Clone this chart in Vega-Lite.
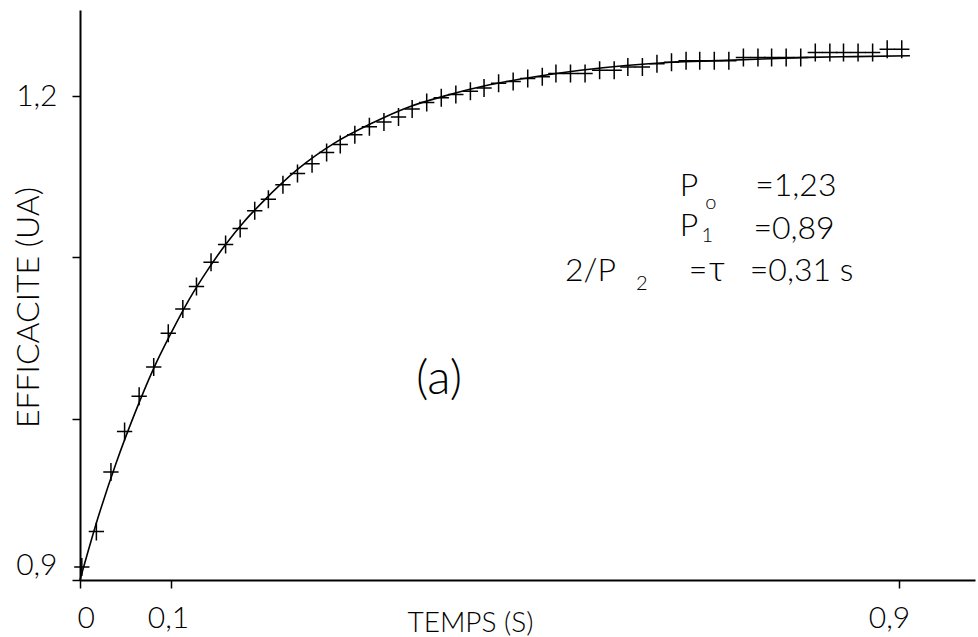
{
  "$schema": "https://vega.github.io/schema/vega-lite/v6.json",
  "width": 895,
  "height": 570,
  "autosize": "none",
  "padding": {"left": 80, "top": 10, "right": 3, "bottom": 57},
  "background": "white",
  "config": {
    "view": {"stroke": null},
    "font": "Lato",
    "text": {"font": "Lato", "fontWeight": 300, "color": "black"},
    "axis": {
      "domainColor": "black", "domainWidth": 2, "tickColor": "black", "tickWidth": 1.5,
      "grid": false, "labelColor": "black", "titleColor": "black",
      "labelFont": "Lato", "titleFont": "Lato",
      "labelFontWeight": 300, "titleFontWeight": 300
    }
  },
  "datasets": {
    "fit": [
      {"t": 0, "v": 0.900}, {"t": 0.02, "v": 0.939}, {"t": 0.04, "v": 0.973}, {"t": 0.06, "v": 1.003},
      {"t": 0.08, "v": 1.030}, {"t": 0.10, "v": 1.053}, {"t": 0.12, "v": 1.074}, {"t": 0.14, "v": 1.092},
      {"t": 0.16, "v": 1.108}, {"t": 0.18, "v": 1.122}, {"t": 0.20, "v": 1.134}, {"t": 0.24, "v": 1.155},
      {"t": 0.28, "v": 1.171}, {"t": 0.32, "v": 1.183}, {"t": 0.36, "v": 1.193}, {"t": 0.40, "v": 1.200},
      {"t": 0.45, "v": 1.207}, {"t": 0.50, "v": 1.212}, {"t": 0.55, "v": 1.216}, {"t": 0.60, "v": 1.219},
      {"t": 0.65, "v": 1.221}, {"t": 0.70, "v": 1.222}, {"t": 0.75, "v": 1.223}, {"t": 0.80, "v": 1.224},
      {"t": 0.85, "v": 1.2245}, {"t": 0.912, "v": 1.225}
    ],
    "pts": [
      {"t": 0.002, "v": 0.908}, {"t": 0.018, "v": 0.930}, {"t": 0.034, "v": 0.967}, {"t": 0.049, "v": 0.992},
      {"t": 0.065, "v": 1.014}, {"t": 0.081, "v": 1.032}, {"t": 0.097, "v": 1.053}, {"t": 0.113, "v": 1.068},
      {"t": 0.128, "v": 1.082}, {"t": 0.144, "v": 1.097}, {"t": 0.160, "v": 1.108}, {"t": 0.176, "v": 1.118},
      {"t": 0.192, "v": 1.129}, {"t": 0.207, "v": 1.136}, {"t": 0.223, "v": 1.145}, {"t": 0.239, "v": 1.152},
      {"t": 0.255, "v": 1.158}, {"t": 0.271, "v": 1.165}, {"t": 0.286, "v": 1.170}, {"t": 0.302, "v": 1.176},
      {"t": 0.318, "v": 1.181}, {"t": 0.334, "v": 1.184}, {"t": 0.350, "v": 1.187}, {"t": 0.365, "v": 1.192},
      {"t": 0.381, "v": 1.196}, {"t": 0.397, "v": 1.199}, {"t": 0.413, "v": 1.201}, {"t": 0.429, "v": 1.203},
      {"t": 0.444, "v": 1.205}, {"t": 0.460, "v": 1.208}, {"t": 0.476, "v": 1.209}, {"t": 0.492, "v": 1.211},
      {"t": 0.508, "v": 1.212}, {"t": 0.523, "v": 1.214}, {"t": 0.539, "v": 1.214}, {"t": 0.555, "v": 1.214},
      {"t": 0.571, "v": 1.216}, {"t": 0.587, "v": 1.216}, {"t": 0.602, "v": 1.218}, {"t": 0.618, "v": 1.218},
      {"t": 0.634, "v": 1.220}, {"t": 0.650, "v": 1.221}, {"t": 0.666, "v": 1.222}, {"t": 0.681, "v": 1.222},
      {"t": 0.697, "v": 1.222}, {"t": 0.713, "v": 1.222}, {"t": 0.729, "v": 1.224}, {"t": 0.745, "v": 1.224},
      {"t": 0.760, "v": 1.224}, {"t": 0.776, "v": 1.224}, {"t": 0.792, "v": 1.224}, {"t": 0.808, "v": 1.227},
      {"t": 0.824, "v": 1.227}, {"t": 0.839, "v": 1.227}, {"t": 0.855, "v": 1.227}, {"t": 0.871, "v": 1.227},
      {"t": 0.887, "v": 1.229}, {"t": 0.903, "v": 1.229}
    ],
    "ann": [
      {"t": 0.659, "v": 1.1379, "label": "P"},
      {"t": 0.742, "v": 1.1379, "label": "=1,23"},
      {"t": 0.659, "v": 1.1130, "label": "P"},
      {"t": 0.740, "v": 1.1112, "label": "=0,89"},
      {"t": 0.669, "v": 1.0851, "label": "="},
      {"t": 0.736, "v": 1.0851, "label": "=0,31"},
      {"t": 0.835, "v": 1.0851, "label": "s"}
    ],
    "annR": [
      {"t": 0.589, "v": 1.0851, "label": "2/P"}
    ],
    "tau": [
      {"t": 0.691, "v": 1.0851, "label": "τ"}
    ],
    "subs": [
      {"t": 0.687, "v": 1.1298, "label": "o"},
      {"t": 0.683, "v": 1.1093, "label": "1"},
      {"t": 0.611, "v": 1.0795, "label": "2"}
    ],
    "tag": [
      {"t": 0.3945, "v": 1.0242, "label": "(a)"}
    ]
  },
  "layer": [
    {
      "data": {"name": "fit"},
      "mark": {"type": "line", "color": "black", "strokeWidth": 1.6, "interpolate": "monotone"},
      "encoding": {
        "x": {
          "field": "t", "type": "quantitative",
          "scale": {"domain": [0, 0.9835], "nice": false, "zero": false},
          "axis": {
            "values": [0, 0.1, 0.9],
            "labelExpr": "datum.value == 0 ? '0' : datum.value == 0.1 ? '0,1' : '0,9'",
            "labelOffset": {"condition": {"test": "datum.value == 0.9", "value": -10}, "value": -3},
            "tickSize": 8, "labelPadding": 15, "labelFontSize": 30,
            "title": "TEMPS (S)", "titleFontSize": 28,
            "titleX": 390, "titleY": 43, "titleAlign": "center", "titleBaseline": "middle", "titleAnchor": null
          }
        },
        "y": {
          "field": "v", "type": "quantitative",
          "scale": {"domain": [0.9, 1.2534], "nice": false, "zero": false},
          "axis": {
            "values": [0.9, 1.0, 1.1, 1.2],
            "labelExpr": "datum.value == 1.2 ? '1,2' : datum.value == 0.9 ? '0,9' : ''",
            "labelBaseline": {"condition": {"test": "datum.value == 0.9", "value": "bottom"}, "value": "middle"},
            "tickSize": 8, "labelPadding": 15, "labelFontSize": 30,
            "title": "EFFICACITE (UA)", "titleFontSize": 32,
            "titleX": -52, "titleY": 297, "titleAngle": 270, "titleAlign": "center", "titleBaseline": "middle", "titleAnchor": null
          }
        }
      }
    },
    {
      "data": {"name": "pts"},
      "mark": {"type": "point", "shape": "M-0.85,0H0.85M0,-1V1", "filled": false, "stroke": "black", "strokeWidth": 1.5, "size": 324, "opacity": 1},
      "encoding": {
        "x": {"field": "t", "type": "quantitative"},
        "y": {"field": "v", "type": "quantitative"}
      }
    },
    {
      "data": {"name": "ann"},
      "mark": {"type": "text", "align": "left", "baseline": "alphabetic", "fontSize": 32},
      "encoding": {
        "x": {"field": "t", "type": "quantitative"},
        "y": {"field": "v", "type": "quantitative"},
        "text": {"field": "label"}
      }
    },
    {
      "data": {"name": "annR"},
      "mark": {"type": "text", "align": "right", "baseline": "alphabetic", "fontSize": 32},
      "encoding": {
        "x": {"field": "t", "type": "quantitative"},
        "y": {"field": "v", "type": "quantitative"},
        "text": {"field": "label"}
      }
    },
    {
      "data": {"name": "tau"},
      "mark": {"type": "text", "align": "left", "baseline": "alphabetic", "fontSize": 36},
      "encoding": {
        "x": {"field": "t", "type": "quantitative"},
        "y": {"field": "v", "type": "quantitative"},
        "text": {"field": "label"}
      }
    },
    {
      "data": {"name": "subs"},
      "mark": {"type": "text", "align": "left", "baseline": "alphabetic", "fontSize": 20},
      "encoding": {
        "x": {"field": "t", "type": "quantitative"},
        "y": {"field": "v", "type": "quantitative"},
        "text": {"field": "label"}
      }
    },
    {
      "data": {"name": "tag"},
      "mark": {"type": "text", "align": "center", "baseline": "middle", "fontSize": 48},
      "encoding": {
        "x": {"field": "t", "type": "quantitative"},
        "y": {"field": "v", "type": "quantitative"},
        "text": {"field": "label"}
      }
    }
  ]
}
